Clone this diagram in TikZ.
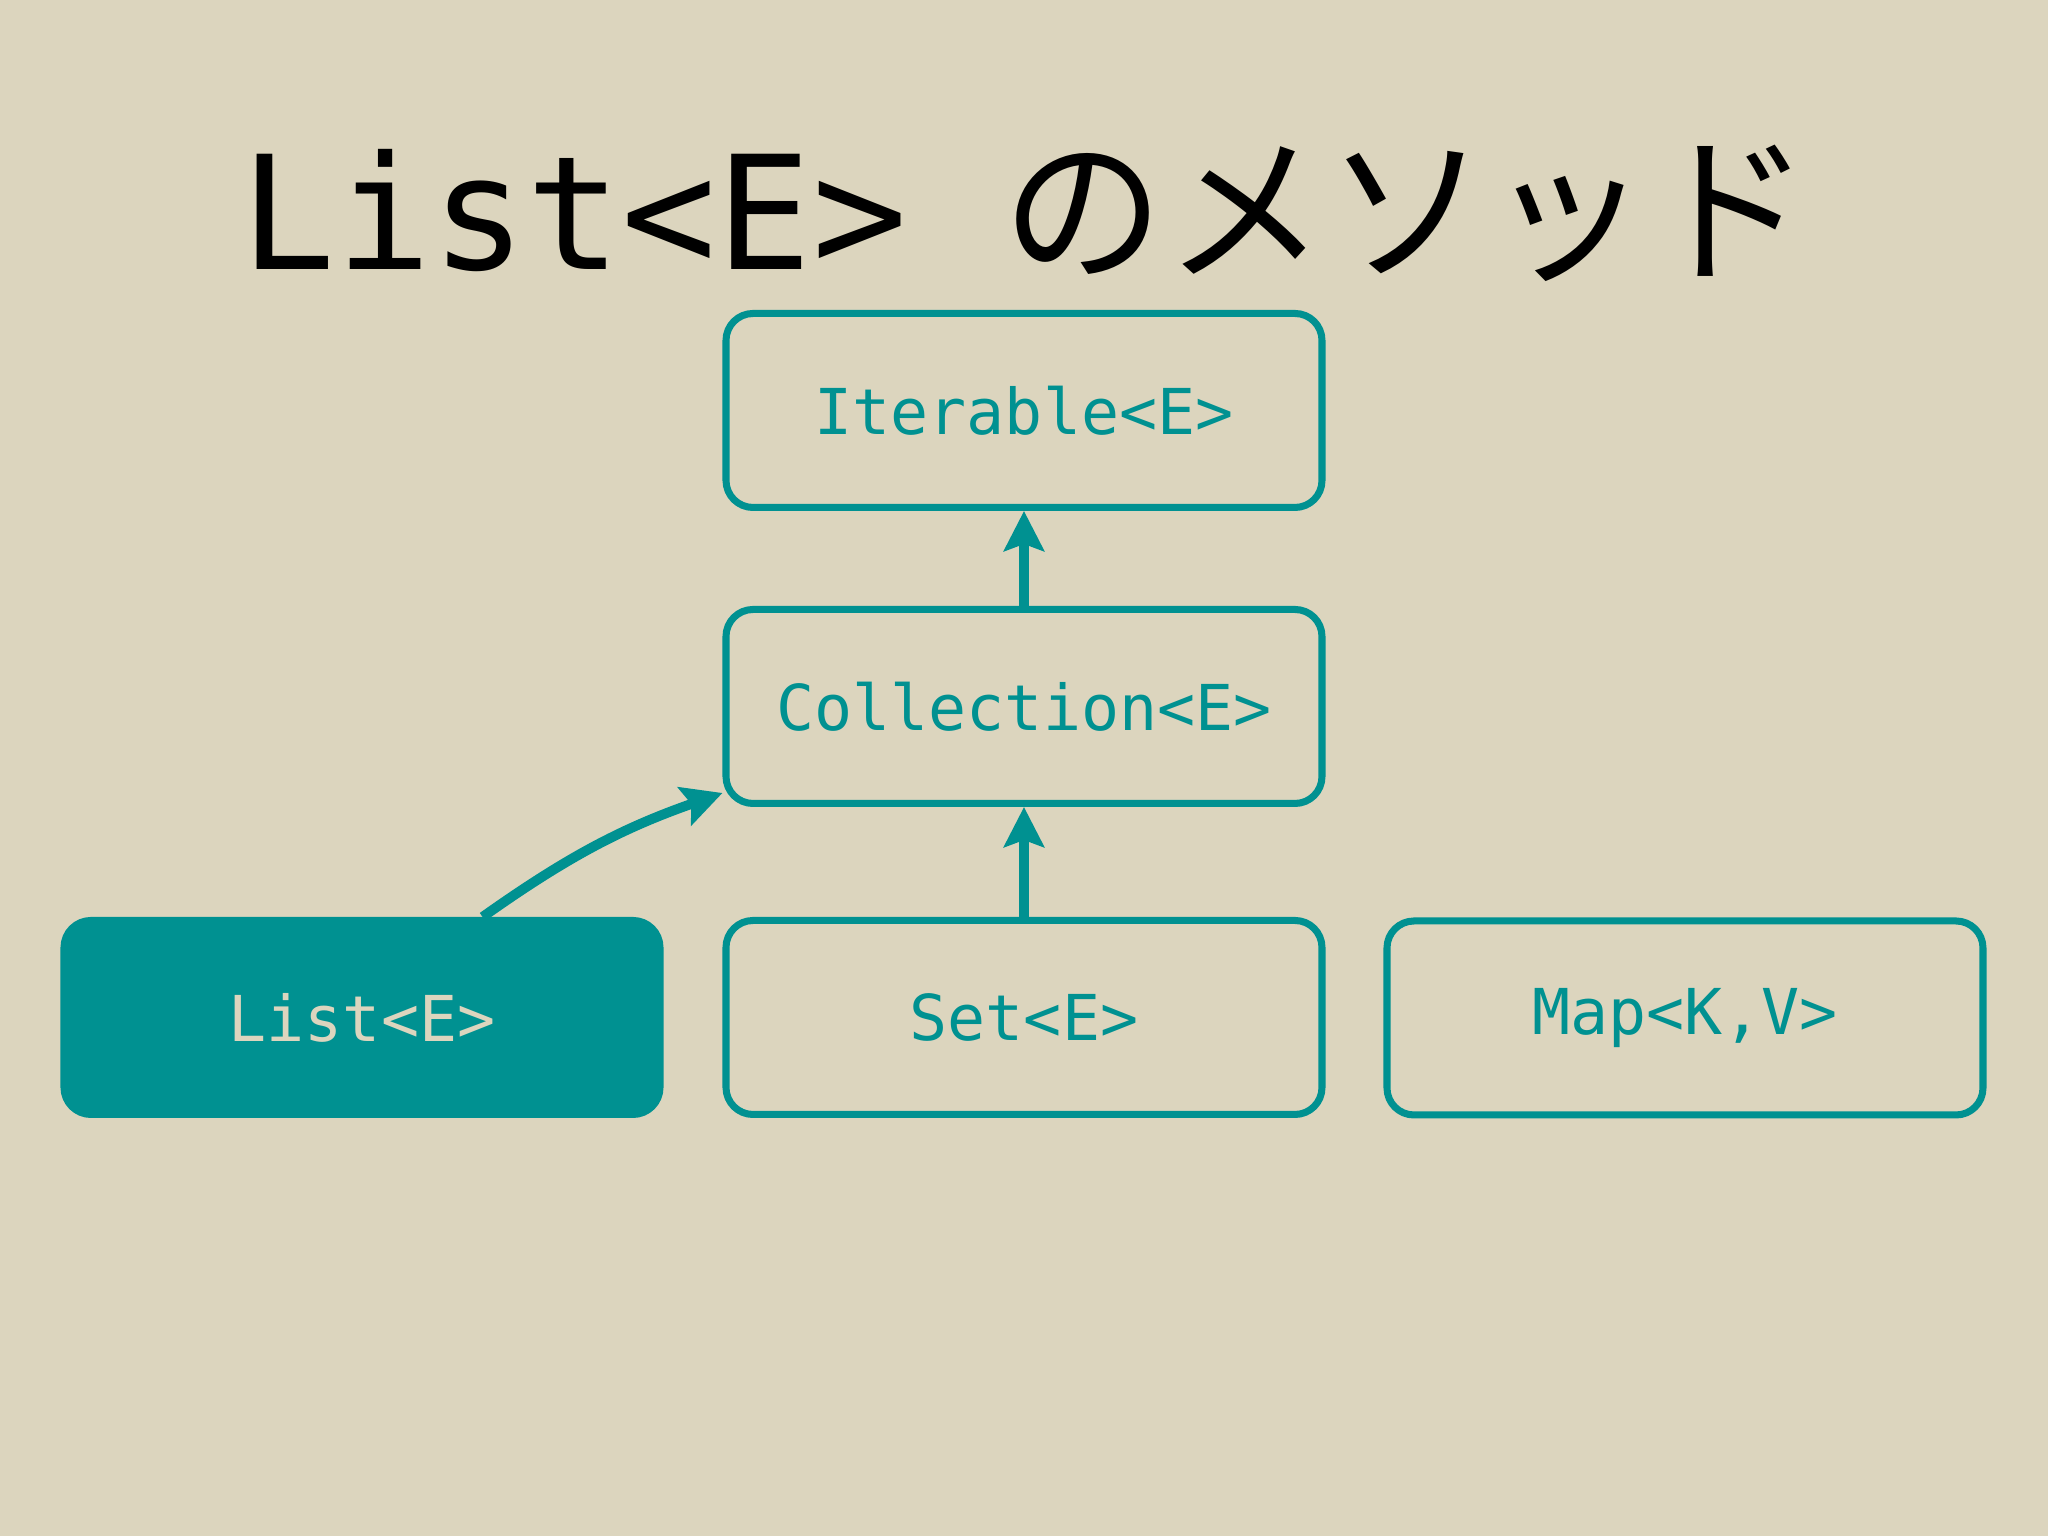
\documentclass[tikz,border=0pt]{standalone}
\usepackage{fontspec}
\setmonofont{DejaVu Sans Mono}
\newfontfamily\jpfont{Noto Sans CJK JP}
\usetikzlibrary{arrows.meta, positioning, calc}

\definecolor{slidebg}{RGB}{220,213,190}
\definecolor{teal}{RGB}{0,145,145}

\begin{document}
\begin{tikzpicture}
    % --- Style Definitions ---
    \tikzset{
        type box/.style={
            draw=teal,
            line width=2pt,
            rounded corners=0.27cm,
            minimum width=5.96cm,
            minimum height=1.94cm,
            text=teal,
            font=\ttfamily\fontsize{18}{22}\selectfont
        },
        current box/.style={
            type box,
            fill=teal,
            text=slidebg
        },
        title text/.style={
            font=\fontsize{46}{54}\selectfont,
            color=black
        },
        extends arrow/.style={
            draw=teal,
            line width=2.8pt,
            -{Stealth[length=0.4cm, width=0.4cm, inset=0.07cm]}
        }
    }

    % Slide dimensions
    \def\slidewidth{20.48}
    \def\slideheight{15.36}

    % --- 1. Background ---
    \fill[slidebg] (0,0) rectangle (\slidewidth,\slideheight);
    \useasboundingbox (0,0) rectangle (\slidewidth,\slideheight);

    % --- 2. Title ---
    \node[title text, anchor=base] (title) at (10.26, 12.66)
        {{\ttfamily\fontsize{45}{54}\selectfont List<E> }{\jpfont のメソッド}};

    % --- 3. Type boxes ---
    \node[type box] (iterable) at (10.24, 11.255) {Iterable<E>};
    \node[type box] (collection) at (10.24, 8.295) {Collection<E>};
    \node[current box] (list) at (3.62, 5.185) {List<E>};
    \node[type box] (set) at (10.24, 5.185) {Set<E>};
    \node[type box] (map) at (16.85, 5.18) {Map<K,V>};

    % --- 4. Inheritance arrows ---
    \draw[extends arrow] (collection.north) -- (iterable.south);
    \draw[extends arrow] (set.north) -- (collection.south);

    % List joins Collection at its lower left corner
    \coordinate (list top) at ($(list.north west)!0.7!(list.north east)$);
    \coordinate (collection corner) at ([yshift=0.14cm]collection.south west);
    \draw[extends arrow] (list top) to[bend left=8] (collection corner);

\end{tikzpicture}
\end{document}
